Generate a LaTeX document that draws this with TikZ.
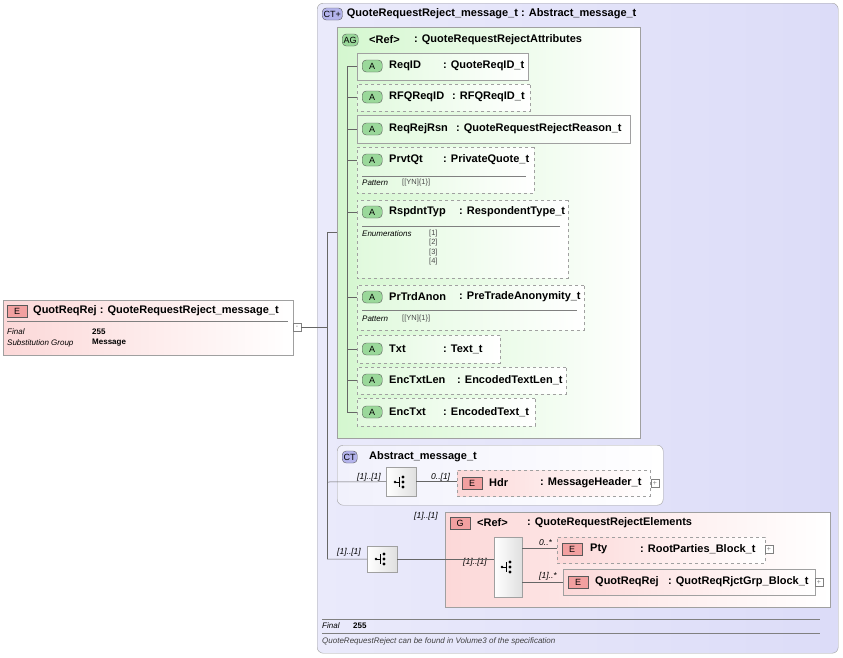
\documentclass[tikz,border=0pt]{standalone}
\usepackage{fontspec}
\setmainfont{Liberation Sans}
\usetikzlibrary{shapes.misc, positioning}
\definecolor{ctfill}{HTML}{DCDCF8}
\definecolor{agfill}{HTML}{D4F7CF}
\definecolor{efill}{HTML}{FCD8D8}
\definecolor{frame}{HTML}{A0A0A0}
\definecolor{badgeg}{HTML}{9AD89A}
\definecolor{badgee}{HTML}{F2A0A0}
\definecolor{badgect}{HTML}{B4B4EC}
\tikzset{
  box/.style={draw=frame, anchor=north west, inner sep=0pt},
  ctbox/.style={box, rounded corners=6pt, left color=ctfill!60, right color=ctfill},
  agbox/.style={box, left color=agfill, right color=white},
  ebox/.style={box, left color=efill, right color=white},
  attr/.style={box, chamfered rectangle, chamfered rectangle xsep=4pt, chamfered rectangle ysep=4pt, left color=agfill!70, right color=white},
  opt/.style={dashed},
  badge/.style={draw=gray!70!black, rounded corners=4pt, inner sep=1.5pt, minimum height=12pt, font=\fontsize{9}{10}\selectfont, anchor=west},
  ttl/.style={anchor=west, inner sep=0pt, font=\fontsize{11}{12}\selectfont\bfseries},
  small/.style={anchor=west, inner sep=0pt, font=\fontsize{8}{9}\selectfont\itshape},
  card/.style={anchor=west, inner sep=0pt, font=\fontsize{8.5}{9}\selectfont\itshape},
  smallb/.style={anchor=west, inner sep=0pt, font=\fontsize{8}{9}\selectfont\bfseries},
  enum/.style={anchor=west, inner sep=0pt, font=\fontsize{7.5}{8}\selectfont, text=gray!60!black},
  seq/.style={box, minimum width=30pt, minimum height=29pt, left color=white, right color=gray!25},
  conn/.style={draw=gray!80!black, line width=0.5pt},
  pm/.style={draw=gray, minimum size=8pt, inner sep=0pt, font=\fontsize{7}{7}\selectfont, text=gray},
}
\newcommand{\seqicon}[1]{%
  \fill (#1) ++(-6,0) circle (1.3);
  \draw (#1) ++(-6,0) -- ++(4,0);
  \draw (#1) ++(-2,-5) -- ++(0,10);
  \foreach \dy in {-5,0,5} \fill (#1) ++(2,\dy) circle (1.6);
}
\begin{document}
\begin{tikzpicture}[x=1pt, y=-1pt]
\useasboundingbox (0,0) rectangle (843,657);

% main complex type
\node[ctbox, minimum width=521pt, minimum height=650pt] (main) at (317,3) {};
\node[badge, fill=badgect] (ctb) at (322,14) {CT+};
\node[ttl, right=4pt of ctb] {QuoteRequestReject\_message\_t : Abstract\_message\_t};

% element
\node[ebox, minimum width=290pt, minimum height=55pt] (elem) at (3,300) {};
\node[badge, fill=badgee, rounded corners=0pt, minimum width=20pt] (eb) at (7,311) {E};
\node[ttl] at (33,311) {QuotReqRej : QuoteRequestReject\_message\_t};
\draw[gray] (7,321) -- (288,321);
\node[small] at (7,332) {Final};
\node[smallb] at (92,332) {255};
\node[small] at (7,343) {Substitution Group};
\node[smallb] at (92,343) {Message};
\node[pm, fill=white] (elemminus) at (297,327) {-};

% attribute group
\node[agbox, minimum width=303pt, minimum height=411pt] (ag) at (337,27) {};
\node[badge, fill=badgeg] (agb) at (342,40) {AG};
\node[ttl] at (369,40) {<Ref>};
\node[ttl] at (414,40) {: QuoteRequestRejectAttributes};

\node[attr, minimum width=171pt, minimum height=27pt] (reqid) at (357,53) {};
\node[attr, opt, minimum width=173pt, minimum height=27pt] (rfq) at (357,84) {};
\node[attr, minimum width=273pt, minimum height=28pt] (rsn) at (357,115) {};
\node[attr, opt, minimum width=177pt, minimum height=46pt] (prvt) at (357,147) {};
\node[attr, opt, minimum width=211pt, minimum height=78pt] (rsp) at (357,200) {};
\node[attr, opt, minimum width=227pt, minimum height=45pt] (prtrd) at (357,285) {};
\node[attr, opt, minimum width=143pt, minimum height=28pt] (txt) at (357,335) {};
\node[attr, opt, minimum width=209pt, minimum height=27pt] (etl) at (357,367) {};
\node[attr, opt, minimum width=178pt, minimum height=28pt] (etx) at (357,398) {};

\foreach \y/\n in {66/ReqID, 97/RFQReqID, 129/ReqRejRsn, 160/PrvtQt, 212/RspdntTyp,
    297/PrTrdAnon, 349/Txt, 380/EncTxtLen, 412/EncTxt} {
  \node[badge, fill=badgeg, minimum width=20pt] at (362,\y) {A};
  \node[ttl] at (389,\y) {\n};
  \draw[conn] (347,\y) -- (357,\y);
}
\node[ttl] at (443,66) {: QuoteReqID\_t};
\node[ttl] at (452,97) {: RFQReqID\_t};
\node[ttl] at (456,129) {: QuoteRequestRejectReason\_t};
\node[ttl] at (443,160) {: PrivateQuote\_t};
\node[ttl] at (459,212) {: RespondentType\_t};
\node[ttl] at (459,297) {: PreTradeAnonymity\_t};
\node[ttl] at (443,349) {: Text\_t};
\node[ttl] at (457,380) {: EncodedTextLen\_t};
\node[ttl] at (443,412) {: EncodedText\_t};
\draw[conn] (347,66) -- (347,412);

\draw[gray] (362,176) -- (526,176);
\node[small] at (362,183) {Pattern};
\node[enum] at (402,183) {[[YN]\{1\}]};
\draw[gray] (362,226) -- (560,226);
\node[small] at (362,234) {Enumerations};
\foreach \v [count=\i] in {1,2,3,4} \node[enum] at (429,{224+\i*9.5}) {[\v]};
\draw[gray] (362,310) -- (577,310);
\node[small] at (362,319) {Pattern};
\node[enum] at (402,319) {[[YN]\{1\}]};

% abstract message
\node[ctbox, minimum width=326pt, minimum height=60pt, left color=ctfill!40, right color=white] (abs) at (337,445) {};
\node[badge, fill=badgect] (ctb2) at (342,457) {CT};
\node[ttl] at (369,457) {Abstract\_message\_t};
\node[seq] (seq1) at (386,467) {};
\seqicon{401,482}
\node[ebox, opt, minimum width=193pt, minimum height=26pt] (hdr) at (457,470) {};
\node[badge, fill=badgee, rounded corners=0pt, minimum width=20pt] at (462,483) {E};
\node[ttl] at (489,483) {Hdr};
\node[ttl] at (540,483) {: MessageHeader\_t};
\node[pm, fill=white] at (655,483) {+};
\node[card] at (357,477) {[1]..[1]};
\node[card] at (431,477) {0..[1]};

% elements group
\node[ebox, minimum width=385pt, minimum height=95pt] (grp) at (445,512) {};
\node[badge, fill=badgee, rounded corners=0pt, minimum width=20pt] at (450,523) {G};
\node[ttl] at (477,523) {<Ref>};
\node[ttl] at (527,523) {: QuoteRequestRejectElements};
\node[card] at (414,516) {[1]..[1]};
\node[seq, minimum width=30pt, minimum height=26pt] (seq2) at (367,546) {};
\seqicon{382,559}
\node[seq, minimum width=28pt, minimum height=60pt] (seq3) at (494,537) {};
\seqicon{508,567}
\node[ebox, opt, minimum width=208pt, minimum height=26pt] (pty) at (557,537) {};
\node[badge, fill=badgee, rounded corners=0pt, minimum width=20pt] at (562,549) {E};
\node[ttl] at (590,549) {Pty};
\node[ttl] at (640,549) {: RootParties\_Block\_t};
\node[pm, fill=white] at (769,549) {+};
\node[ebox, minimum width=252pt, minimum height=26pt] (qrr) at (563,569) {};
\node[badge, fill=badgee, rounded corners=0pt, minimum width=20pt] at (568,582) {E};
\node[ttl] at (595,582) {QuotReqRej};
\node[ttl] at (668,582) {: QuotReqRjctGrp\_Block\_t};
\node[pm, fill=white] at (819,582) {+};
\node[card] at (337,552) {[1]..[1]};
\node[card] at (463,562) {[1]..[1]};
\node[card] at (539,543) {0..*};
\node[card] at (539,576) {[1]..*};

% connectors
\draw[conn] (elemminus.east) -- (327,327);
\draw[conn] (327,232) -- (327,559);
\draw[conn] (327,232) -- (ag.west |- 0,232);
\draw[conn] (327,482) -- (seq1.west);
\draw[conn] (seq1.east) -- (hdr.west |- seq1.east);
\draw[conn] (327,559) -- (seq2.west);
\draw[conn] (seq2.east) -- (seq3.west |- seq2.east);
\draw[conn] (seq3.east |- 0,548) -- (pty.west |- 0,548);
\draw[conn] (seq3.east |- 0,582) -- (qrr.west |- 0,582);

% footer
\draw[gray] (322,619) -- (820,619);
\node[small] at (322,626) {Final};
\node[smallb] at (353,626) {255};
\draw[gray] (322,633) -- (820,633);
\node[small, text=gray!50!black] at (322,641) {QuoteRequestReject can be found in Volume3 of the specification};
\end{tikzpicture}
\end{document}
